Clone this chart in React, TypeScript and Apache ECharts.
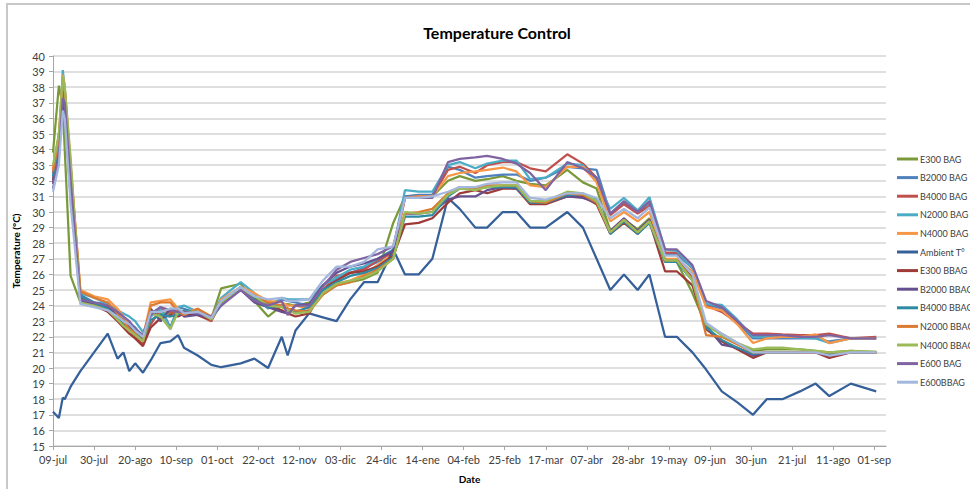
import React, { useEffect, useRef } from "react";
import * as echarts from "echarts";

// Day offsets since 09-jul (shared sampling dates)
const days = [0, 3, 5, 6, 9, 14, 21, 28, 33, 36, 39, 42, 46, 50, 55, 60, 64, 67, 74, 81, 86, 96, 103, 110, 117, 120, 124, 131, 138, 145, 152, 159, 166, 174, 180, 187, 194, 202, 208, 216, 222, 230, 237, 244, 252, 263, 271, 278, 285, 292, 299, 305, 313, 319, 327, 334, 342, 350, 358, 365, 373, 382, 390, 397, 408, 421];

const tickLabels = ["09-jul", "30-jul", "20-ago", "10-sep", "01-oct", "22-oct", "12-nov", "03-dic", "24-dic", "14-ene", "04-feb", "25-feb", "17-mar", "07-abr", "28-abr", "19-may", "09-jun", "30-jun", "21-jul", "11-ago", "01-sep"];

const e300Bag = [33.8, 38.1, 36.8, 34.0, 25.9, 24.2, 24.0, 23.8, 23.3, 22.9, 22.6, 22.3, 21.9, 23.5, 23.5, 23.5, 23.6, 23.4, 23.5, 23.2, 25.1, 25.4, 24.3, 23.3, 24.0, 24.1, 24.0, 24.2, 24.7, 25.3, 25.5, 25.7, 26.1, 29.3, 31.0, 31.0, 31.0, 32.0, 32.3, 32.0, 32.1, 32.3, 32.0, 31.8, 31.7, 32.7, 31.9, 31.5, 28.8, 29.5, 28.9, 29.6, 26.8, 26.8, 24.8, 22.7, 22.2, 21.6, 21.1, 21.2, 21.2, 21.2, 21.1, 21.0, 21.1, 21.0];
const b2000Bag = [32.2, 34.5, 37.6, 37.0, 31.0, 24.7, 24.2, 24.1, 23.4, 23.1, 22.9, 22.6, 22.0, 23.5, 23.9, 22.6, 23.9, 23.8, 23.5, 23.1, 24.1, 25.2, 24.6, 24.1, 24.4, 24.3, 24.2, 24.0, 25.0, 25.7, 26.1, 26.4, 26.8, 27.5, 31.0, 31.1, 31.1, 32.9, 32.7, 32.2, 32.3, 32.4, 32.4, 32.0, 32.2, 32.9, 32.8, 32.7, 29.9, 30.6, 30.0, 30.6, 27.3, 27.3, 26.4, 24.1, 23.8, 22.9, 21.9, 21.9, 21.9, 21.9, 21.9, 21.7, 21.9, 21.9];
const b4000Bag = [32.5, 35.0, 37.8, 37.3, 32.0, 24.5, 24.0, 23.7, 23.2, 22.8, 22.4, 22.0, 21.5, 22.8, 23.8, 23.6, 23.4, 23.6, 23.4, 23.0, 24.3, 25.0, 24.5, 24.0, 24.0, 23.8, 23.5, 23.7, 25.0, 25.9, 26.1, 26.3, 26.9, 27.4, 30.9, 31.0, 31.0, 32.7, 32.9, 32.5, 33.0, 33.2, 33.2, 32.8, 32.6, 33.7, 33.1, 32.2, 29.8, 30.5, 29.9, 30.4, 27.4, 27.4, 26.5, 24.0, 23.6, 22.9, 22.2, 22.2, 22.15, 22.1, 22.1, 22.2, 21.9, 22.0];
const n2000Bag = [32.1, 34.0, 39.1, 38.0, 32.5, 24.8, 24.5, 24.1, 23.7, 23.5, 23.3, 23.0, 22.3, 23.3, 23.8, 22.5, 23.9, 24.0, 23.6, 23.2, 24.5, 25.5, 24.8, 23.8, 24.5, 24.4, 24.4, 24.4, 25.3, 25.8, 26.3, 26.5, 27.0, 27.6, 31.4, 31.3, 31.3, 33.0, 33.2, 32.8, 33.1, 33.3, 33.3, 32.1, 32.2, 33.1, 33.0, 32.0, 30.2, 30.9, 30.1, 30.95, 27.6, 27.5, 26.4, 24.1, 24.05, 23.1, 22.0, 22.0, 22.0, 21.95, 21.9, 21.6, 21.9, 21.9];
const n4000Bag = [32.8, 34.8, 38.8, 38.0, 33.0, 25.0, 24.6, 24.4, 23.8, 23.3, 22.8, 22.4, 22.0, 24.2, 24.3, 24.4, 23.8, 23.5, 23.8, 23.1, 24.4, 25.2, 24.8, 24.3, 24.2, 24.0, 24.0, 23.8, 24.8, 25.4, 25.6, 26.0, 26.6, 27.3, 30.9, 31.0, 31.0, 32.3, 32.5, 32.6, 32.7, 32.85, 32.6, 31.7, 31.6, 32.9, 32.9, 31.9, 29.4, 30.0, 29.4, 30.0, 27.0, 27.0, 26.2, 23.9, 23.7, 22.8, 21.6, 21.9, 22.0, 22.0, 22.15, 21.6, 21.9, 21.9];
const ambient = [17.2, 16.8, 18.1, 18.0, 18.8, 19.8, 21.0, 22.2, 20.6, 21.0, 19.8, 20.3, 19.7, 20.5, 21.6, 21.7, 22.1, 21.3, 20.8, 20.2, 20.05, 20.3, 20.6, 20.0, 22.0, 20.8, 22.4, 23.5, 23.25, 23.0, 24.4, 25.5, 25.5, 27.6, 26.0, 26.0, 27.0, 30.9, 30.2, 29.0, 29.0, 30.0, 30.0, 29.0, 29.0, 30.0, 29.0, 27.0, 25.0, 26.0, 25.0, 26.0, 22.0, 22.0, 21.0, 19.9, 18.5, 17.8, 17.0, 18.0, 18.0, 18.5, 19.0, 18.2, 19.0, 18.5];
const e300Bbag = [32.0, 34.0, 37.0, 36.5, 31.0, 24.5, 24.0, 23.6, 23.0, 22.6, 22.2, 21.9, 21.4, 22.6, 23.2, 23.4, 23.3, 23.5, 23.4, 23.1, 24.2, 25.1, 24.5, 24.0, 23.7, 23.5, 23.3, 23.5, 25.0, 25.6, 26.1, 26.2, 26.5, 27.2, 29.2, 29.3, 29.6, 30.6, 31.2, 31.4, 31.2, 31.5, 31.5, 30.5, 30.5, 31.0, 31.0, 30.5, 28.6, 29.3, 28.6, 29.4, 26.2, 26.2, 25.3, 22.5, 21.7, 21.2, 20.65, 21.0, 21.0, 21.0, 21.0, 20.65, 21.0, 21.0];
const b2000Bbag = [31.8, 34.2, 37.2, 36.8, 31.5, 24.3, 24.1, 23.9, 23.4, 23.0, 22.7, 22.4, 22.0, 23.8, 23.0, 23.8, 23.7, 23.3, 23.4, 23.2, 24.2, 25.0, 24.2, 23.9, 23.6, 23.5, 24.0, 24.1, 25.3, 26.1, 26.5, 26.7, 27.0, 27.5, 29.9, 29.9, 30.0, 30.8, 31.0, 31.0, 31.4, 31.6, 31.5, 30.7, 30.6, 31.0, 30.9, 30.6, 28.8, 29.6, 28.8, 29.5, 26.9, 26.9, 25.8, 22.7, 21.5, 21.3, 20.8, 21.0, 21.0, 21.0, 21.0, 20.8, 21.0, 21.0];
const b4000Bbag = [32.3, 34.4, 37.6, 37.2, 32.0, 24.6, 24.2, 23.8, 23.2, 22.8, 22.5, 22.2, 21.8, 23.1, 23.4, 23.3, 23.4, 23.7, 23.6, 23.2, 24.0, 25.2, 24.4, 23.9, 24.0, 23.8, 23.6, 23.9, 25.0, 25.5, 25.9, 26.1, 26.4, 27.1, 29.7, 29.7, 29.8, 31.0, 31.5, 31.5, 31.6, 31.6, 31.6, 30.6, 30.6, 31.1, 31.1, 30.8, 28.6, 29.4, 28.6, 29.3, 26.8, 26.8, 25.6, 22.6, 21.8, 21.3, 20.9, 21.0, 21.0, 21.0, 21.05, 20.9, 21.0, 21.0];
const n2000Bbag = [32.6, 34.6, 38.5, 37.8, 33.0, 24.9, 24.5, 24.2, 23.5, 23.0, 22.5, 22.2, 21.7, 24.0, 24.2, 24.2, 23.6, 23.4, 23.8, 23.3, 24.3, 25.1, 24.6, 24.2, 24.0, 23.8, 23.7, 23.6, 24.7, 25.3, 25.5, 25.9, 26.3, 27.0, 29.9, 30.0, 30.2, 31.2, 31.6, 31.5, 31.7, 31.7, 31.7, 30.7, 30.6, 31.2, 31.1, 30.6, 28.7, 29.5, 28.7, 29.4, 26.9, 26.9, 25.7, 22.1, 22.0, 21.5, 21.0, 21.0, 21.0, 21.0, 21.0, 21.0, 21.0, 21.0];
const n4000Bbag = [33.0, 35.0, 38.7, 38.0, 33.5, 24.2, 24.0, 23.7, 23.1, 22.7, 22.4, 22.1, 21.7, 23.5, 23.3, 22.5, 23.6, 23.6, 23.6, 23.1, 24.2, 25.1, 24.6, 24.0, 23.9, 23.7, 23.5, 23.6, 24.8, 25.4, 25.6, 25.8, 26.2, 27.0, 30.0, 29.9, 30.0, 31.1, 31.5, 31.4, 31.6, 31.7, 31.7, 30.7, 30.7, 31.3, 31.2, 30.7, 28.7, 29.5, 28.7, 29.4, 26.9, 26.9, 25.6, 22.8, 22.1, 21.6, 21.2, 21.3, 21.3, 21.2, 21.1, 21.0, 21.1, 21.05];
const e600Bag = [31.5, 33.5, 37.3, 37.0, 32.0, 24.4, 24.2, 24.0, 23.6, 23.3, 23.0, 22.5, 22.1, 23.4, 23.9, 23.7, 23.6, 23.6, 23.5, 23.3, 24.0, 25.0, 24.3, 24.0, 24.3, 23.4, 24.0, 24.0, 25.2, 26.3, 26.8, 27.05, 27.3, 27.8, 30.9, 30.9, 30.9, 33.2, 33.4, 33.5, 33.6, 33.4, 33.1, 32.5, 31.4, 33.2, 32.8, 32.2, 29.9, 30.7, 30.0, 30.7, 27.6, 27.6, 26.6, 24.3, 23.9, 23.0, 22.1, 22.1, 22.1, 22.0, 22.0, 22.1, 21.9, 21.9];
const e600Bbag = [31.3, 33.0, 36.5, 36.0, 30.5, 24.1, 23.9, 23.7, 23.3, 23.0, 22.8, 22.4, 22.0, 23.6, 23.6, 23.8, 23.8, 23.5, 23.6, 23.2, 24.3, 25.2, 24.6, 24.4, 24.5, 24.3, 24.3, 24.4, 25.6, 26.5, 26.5, 26.8, 27.6, 27.8, 30.9, 30.9, 31.0, 31.3, 31.6, 31.6, 31.8, 31.9, 31.9, 30.9, 30.8, 31.2, 31.2, 30.9, 29.6, 30.2, 29.6, 30.3, 27.2, 27.2, 26.0, 22.9, 22.2, 21.6, 21.0, 21.0, 21.0, 21.0, 21.0, 20.8, 21.0, 21.0];

const seriesNames = ["E300 BAG", "B2000 BAG", "B4000 BAG", "N2000 BAG", "N4000 BAG", "Ambient T°", "E300 BBAG", "B2000 BBAG", "B4000 BBAG", "N2000 BBAG", "N4000 BBAG", "E600 BAG", "E600BBAG"];
const seriesValues = [e300Bag, b2000Bag, b4000Bag, n2000Bag, n4000Bag, ambient, e300Bbag, b2000Bbag, b4000Bbag, n2000Bbag, n4000Bbag, e600Bag, e600Bbag];
const seriesColors = ["#7A9A3A", "#4F81BD", "#C0504D", "#4BACC6", "#F79646", "#35609A", "#9E3B38", "#664F8E", "#2E8BA3", "#DC7A32", "#9BBB59", "#8064A2", "#A4B7DE"];

export default function App() {
  const ref = useRef<HTMLDivElement>(null);
  useEffect(() => {
    if (!ref.current) return;
    const chart = echarts.init(ref.current, undefined, { renderer: "svg" });
    const font = "Lato, 'Open Sans', sans-serif";
    const tickDays = tickLabels.map((_, i) => i * 21);
    chart.setOption({
      animation: false,
      backgroundColor: "#ffffff",
      textStyle: { fontFamily: font },
      title: {
        text: "Temperature Control",
        left: 497,
        top: 24,
        textAlign: "center",
        textStyle: { fontSize: 16, fontWeight: "bold", color: "#000000", fontFamily: font },
        padding: 0,
      },
      graphic: [
        {
          type: "rect",
          shape: { x: 7, y: 4, width: 980, height: 500 },
          style: { fill: "none", stroke: "#C8C8C8", lineWidth: 2 },
          silent: true,
        },
      ],
      legend: {
        orient: "vertical",
        left: 897,
        top: 153,
        padding: 0,
        itemWidth: 21,
        itemHeight: 3,
        itemGap: 6.6,
        icon: "rect",
        textStyle: { fontSize: 9, color: "#404040", fontFamily: font, padding: [0, 0, 0, -3], lineHeight: 12 },
        data: seriesNames,
      },
      grid: { left: 53, right: 84, top: 56, bottom: 40, containLabel: false },
      xAxis: {
        type: "value",
        min: 0,
        max: 426,
        name: "Date",
        nameLocation: "middle",
        nameGap: 28,
        nameTextStyle: { fontSize: 10, fontWeight: "bold", color: "#000", fontFamily: font },
        axisLine: { show: true, lineStyle: { color: "#A6A6A6", width: 1 } },
        axisTick: { show: true, customValues: tickDays, length: 4, lineStyle: { color: "#A6A6A6" } },
        axisLabel: {
          customValues: tickDays,
          formatter: (v: number) => tickLabels[Math.round(v / 21)] ?? "",
          fontSize: 11,
          color: "#404040",
          margin: 8,
        },
        splitLine: { show: false },
      },
      yAxis: {
        type: "value",
        min: 15,
        max: 40,
        interval: 1,
        name: "Temperature (°C)",
        nameLocation: "middle",
        nameGap: 24,
        nameTextStyle: { fontSize: 10, fontWeight: "bold", color: "#000", fontFamily: font },
        axisLine: { show: true, lineStyle: { color: "#A6A6A6", width: 1 } },
        axisTick: { show: true, length: 4, lineStyle: { color: "#A6A6A6" } },
        axisLabel: { fontSize: 11, color: "#404040", margin: 8 },
        splitLine: { show: true, lineStyle: { color: "#D4D4D4", width: 1.5 } },
      },
      series: seriesNames.map((name, si) => ({
        name,
        type: "line",
        symbol: "none",
        data: days.map((d, i) => [d, seriesValues[si][i]]),
        lineStyle: { width: 2.25, color: seriesColors[si] },
        itemStyle: { color: seriesColors[si] },
      })),
    });
    return () => chart.dispose();
  }, []);
  return (
    <div
      ref={ref}
      style={{ position: "fixed", left: 0, top: 0, width: 970, height: 489 }}
    />
  );
}
